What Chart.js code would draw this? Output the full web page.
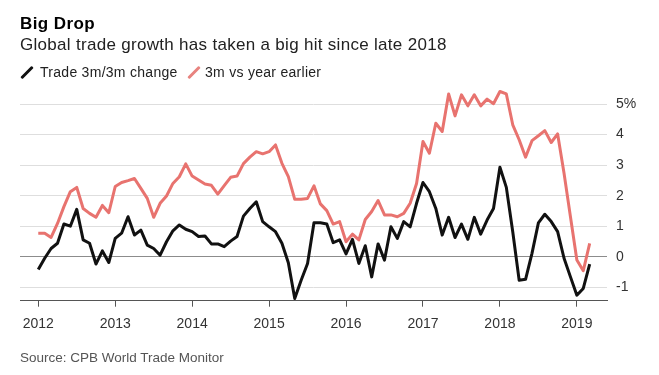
<!DOCTYPE html>
<html>
<head>
<meta charset="utf-8">
<script src="https://cdn.jsdelivr.net/npm/chart.js@4.4.1/dist/chart.umd.min.js"></script>
<style>
  body { margin: 0; background: #fff; font-family: "Liberation Sans", Arial, sans-serif; }
  #wrap { position: relative; width: 659px; height: 375px; overflow: hidden; }
  #chart { position: absolute; left: 0; top: 0; }
  .title { position: absolute; left: 20px; top: 15px; font-size: 17px; line-height: 17px; font-weight: bold; letter-spacing: 0.4px; color: #000; white-space: nowrap; }
  .subtitle { position: absolute; left: 20px; top: 35.5px; font-size: 17px; line-height: 17px; letter-spacing: 0.3px; color: #222; white-space: nowrap; }
  .leg-text { position: absolute; top: 65px; font-size: 14px; line-height: 14px; letter-spacing: 0.28px; color: #222; white-space: nowrap; }
  .leg-icon { position: absolute; width: 16px; height: 3px; border-radius: 1px; transform: rotate(-45deg); }
  .source { position: absolute; left: 20px; top: 351px; font-size: 13.5px; line-height: 13.5px; color: #555; white-space: nowrap; }
</style>
</head>
<body>
<div id="wrap">
  <canvas id="chart" width="659" height="375"></canvas>
  <div class="title">Big Drop</div>
  <div class="subtitle">Global trade growth has taken a big hit since late 2018</div>
  <div class="leg-icon" style="left:19px; top:71px; background:#111;"></div>
  <div class="leg-text" style="left:40px;">Trade 3m/3m change</div>
  <div class="leg-icon" style="left:186px; top:71px; background:#e8837f;"></div>
  <div class="leg-text" style="left:205px;">3m vs year earlier</div>
  <div class="source">Source: CPB World Trade Monitor</div>
</div>
<script>
// monthly, Jan 2012 .. Mar 2019 (index 0 = Jan 2012)
const tradeChange = [
  -0.42, -0.05, 0.27, 0.44, 1.07, 1.00, 1.55, 0.55, 0.44, -0.24, 0.19, -0.19,
  0.60, 0.77, 1.31, 0.71, 0.87, 0.38, 0.27, 0.05, 0.49, 0.85, 1.04, 0.90,
  0.82, 0.66, 0.68, 0.42, 0.42, 0.33, 0.51, 0.66, 1.33, 1.58, 1.80, 1.15,
  0.98, 0.82, 0.44, -0.20, -1.37, -0.77, -0.22, 1.11, 1.11, 1.07, 0.46, 0.55,
  0.09, 0.57, -0.22, 0.36, -0.66, 0.42, -0.11, 0.98, 0.60, 1.15, 0.98, 1.75,
  2.43, 2.13, 1.58, 0.71, 1.29, 0.63, 1.07, 0.57, 1.29, 0.74, 1.20, 1.58,
  2.93, 2.27, 0.82, -0.77, -0.74, 0.11, 1.11, 1.39, 1.15, 0.82, -0.05, -0.66,
  -1.26, -1.04, -0.24
]
const yearEarlier = [
  0.77, 0.77, 0.63, 1.09, 1.64, 2.13, 2.27, 1.58, 1.42, 1.29, 1.68, 1.44,
  2.30, 2.43, 2.49, 2.56, 2.24, 1.91, 1.29, 1.75, 1.99, 2.40, 2.62, 3.04,
  2.64, 2.51, 2.38, 2.34, 2.05, 2.33, 2.60, 2.64, 3.05, 3.26, 3.44, 3.37,
  3.44, 3.66, 3.06, 2.62, 1.88, 1.88, 1.91, 2.32, 1.73, 1.51, 1.07, 1.15,
  0.49, 0.74, 0.55, 1.22, 1.48, 1.84, 1.37, 1.37, 1.31, 1.42, 1.75, 2.40,
  3.77, 3.39, 4.37, 4.10, 5.33, 4.61, 5.30, 4.94, 5.30, 4.94, 5.16, 5.01,
  5.41, 5.33, 4.32, 3.83, 3.26, 3.80, 3.96, 4.13, 3.74, 4.02, 2.73, 1.31,
  -0.11, -0.46, 0.44
]
const yearLabels = ['2012', '2013', '2014', '2015', '2016', '2017', '2018', '2019']
const yTickValues = [-1, 0, 1, 2, 3, 4, 5]

const font = { family: '"Liberation Sans", Arial, sans-serif', size: 14 }
const toPoints = arr => arr.map((v, i) => ({ x: i, y: v }))

const ctx = document.getElementById('chart').getContext('2d')
const chart = new Chart(ctx, {
  type: 'line',
  data: {
    datasets: [
      {
        label: '3m vs year earlier',
        data: toPoints(yearEarlier),
        borderColor: '#e8736f',
        borderWidth: 3,
        pointRadius: 0,
        tension: 0,
        borderJoinStyle: 'round'
      },
      {
        label: 'Trade 3m/3m change',
        data: toPoints(tradeChange),
        borderColor: '#111111',
        borderWidth: 3,
        pointRadius: 0,
        tension: 0,
        borderJoinStyle: 'round'
      }
    ]
  },
  options: {
    responsive: false,
    animation: false,
    layout: { padding: { left: 20, top: 85.7, right: 0, bottom: 34.3 } },
    plugins: { legend: { display: false }, tooltip: { enabled: false } },
    scales: {
      x: {
        type: 'linear',
        min: -2.85,
        max: 88.7,
        afterBuildTicks(scale) {
          scale.ticks = yearLabels.map((_, i) => ({ value: i * 12 }))
        },
        afterFit(scale) { scale.height = 40 },
        ticks: {
          callback: v => yearLabels[Math.round(v / 12)],
          color: '#333',
          font: font,
          padding: 9,
          maxRotation: 0,
          autoSkip: false
        },
        grid: { drawOnChartArea: false, drawTicks: true, tickLength: 6, color: '#555' },
        border: { display: true, color: '#555', width: 1 }
      },
      y: {
        position: 'right',
        min: -1.44,
        max: 5.6,
        afterBuildTicks(scale) {
          scale.ticks = yTickValues.map(v => ({ value: v }))
        },
        afterFit(scale) { scale.width = 52 },
        ticks: {
          callback: v => (v === 5 ? '5%' : String(v)),
          color: '#333',
          font: font,
          padding: 9,
          crossAlign: 'near'
        },
        grid: {
          drawTicks: false,
          color: c => (c.tick && c.tick.value === 0 ? '#8c8c8c' : '#dedede'),
          lineWidth: 1
        },
        border: { display: false }
      }
    }
  }
})
</script>
</body>
</html>
